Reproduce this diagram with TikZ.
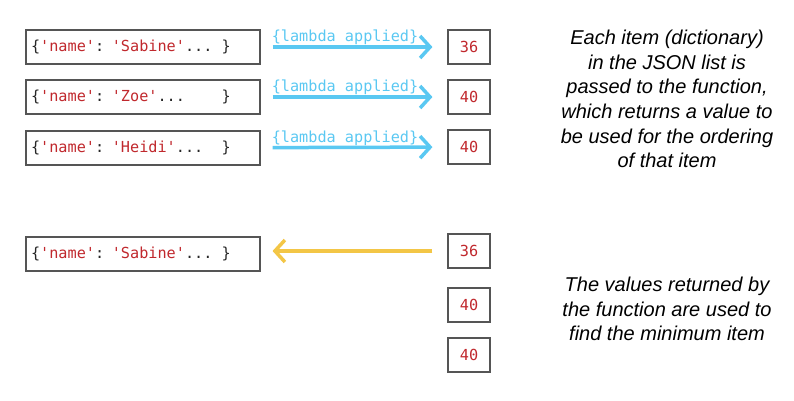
\documentclass[tikz,border=0pt]{standalone}
\usepackage{fontspec}
\setmainfont{Liberation Sans}
\setmonofont{DejaVu Sans Mono}
\usetikzlibrary{arrows.meta}
\definecolor{keyred}{HTML}{C0282D}
\definecolor{lambdablue}{HTML}{5AC8F2}
\definecolor{minyellow}{HTML}{F3C646}
\definecolor{boxgray}{HTML}{555555}
\tikzset{every picture/.style={x=1pt,y=-1pt}}
\tikzset{
  itembox/.style={draw=boxgray, line width=1.1pt, text width=224pt, inner xsep=5pt,
    minimum height=34pt, align=left, text=black!85,
    font=\fontsize{15.2}{17}\selectfont\ttfamily},
  valbox/.style={draw=boxgray, line width=1.1pt, minimum width=42pt, minimum height=34pt,
    inner sep=0pt, text=keyred, font=\fontsize{15.2}{17}\selectfont\ttfamily},
  note/.style={align=center, font=\fontsize{20}{24.6}\selectfont\itshape},
  lambdaarrow/.style={lambdablue, line width=3.5pt, -{Straight Barb[length=10pt,width=22pt]},
    shorten <=12pt, shorten >=15pt},
  minarrow/.style={minyellow, line width=3.5pt, -{Straight Barb[length=10pt,width=22pt]},
    shorten <=15pt, shorten >=12pt},
}
% blanks of one character each
\newcommand{\blanks}[1]{\phantom{#1}}

\begin{document}
\begin{tikzpicture}
    \useasboundingbox (0,0) rectangle (794,400);
    % items of the list
    \node[itembox] (sabine) at (143,47) {\{\textcolor{keyred}{'name'}: \textcolor{keyred}{'Sabine'}...\blanks{x}\}};
    \node[itembox] (zoe) at (143,97) {\{\textcolor{keyred}{'name'}: \textcolor{keyred}{'Zoe'}...\blanks{xxxx}\}};
    \node[itembox] (heidi) at (143,148) {\{\textcolor{keyred}{'name'}: \textcolor{keyred}{'Heidi'}...\blanks{xx}\}};
    % values returned
    \node[valbox] (v1) at (469,47) {36};
    \node[valbox] (v2) at (469,97) {40};
    \node[valbox] (v3) at (469,147) {40};
    \foreach \a/\b in {sabine/v1, zoe/v2, heidi/v3}
      \draw[lambdaarrow] (\a) -- node[above=-3pt, xshift=-9pt, text=lambdablue,
        font=\fontsize{15.2}{17}\selectfont\ttfamily] {\{lambda applied\}} (\b);
    \node[note] (explain) at (667,99) {Each item (dictionary)\\in the JSON list is\\passed to the function,\\which returns a value to\\be used for the ordering\\of that item};
    % the minimum
    \node[itembox] (pick) at (143,254) {\{\textcolor{keyred}{'name'}: \textcolor{keyred}{'Sabine'}...\blanks{x}\}};
    \node[valbox] (m1) at (469,251) {36};
    \node[valbox] (m2) at (469,305) {40};
    \node[valbox] (m3) at (469,355) {40};
    \draw[minarrow] (m1.west) -- (m1.west -| pick.east);
    \node[note] (result) at (667,309) {The values returned by\\the function are used to\\find the minimum item};
\end{tikzpicture}
\end{document}
